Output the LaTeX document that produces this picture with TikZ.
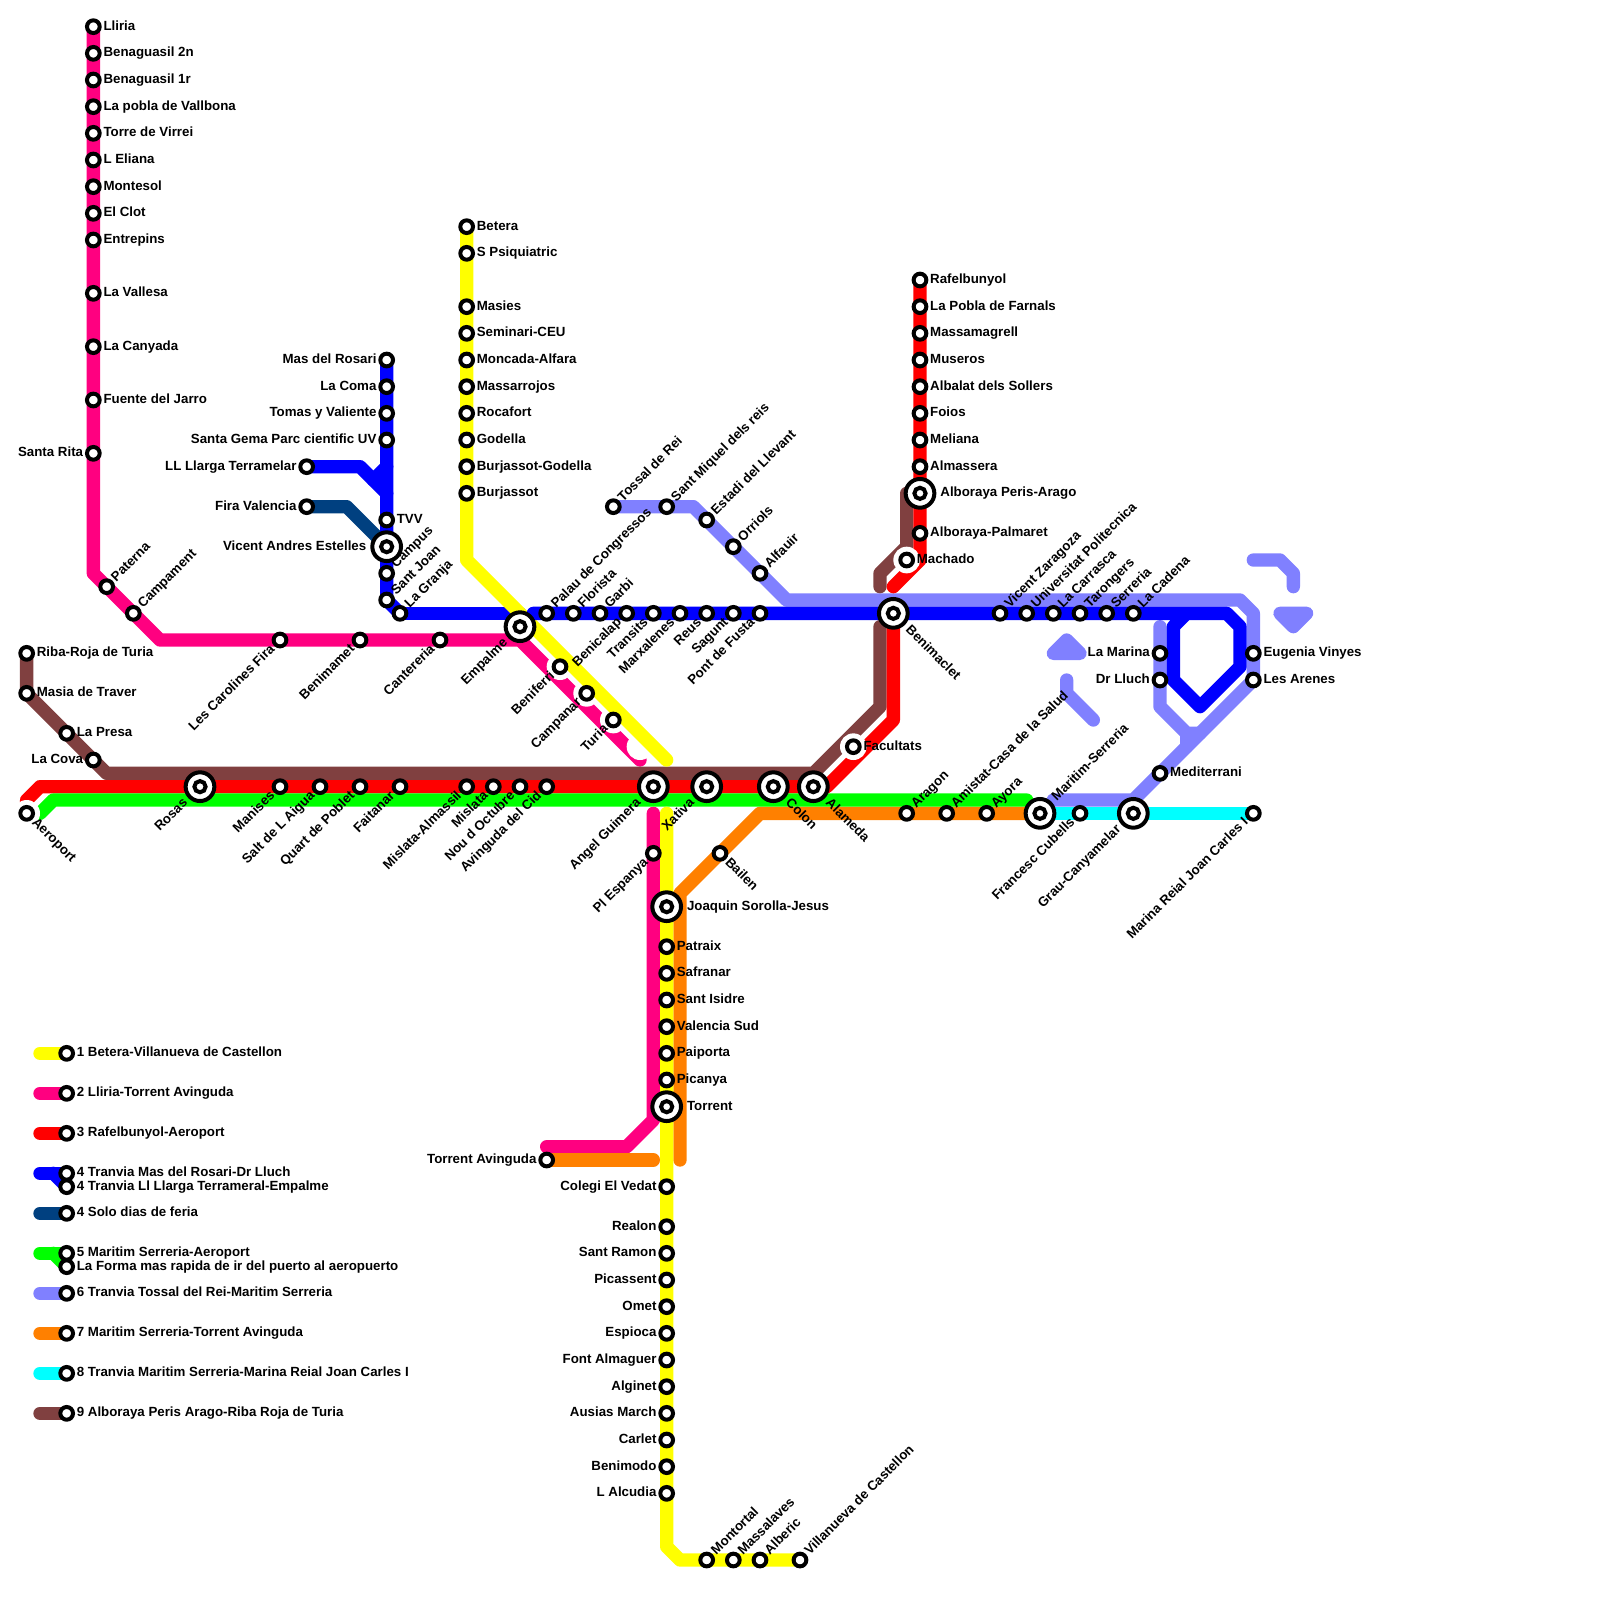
\documentclass[tikz,border=0pt]{standalone}
\usepackage{fontspec}
\setmainfont{Liberation Sans}
\definecolor{cyellow}{HTML}{FFFF00}
\definecolor{cpink}{HTML}{FF0080}
\definecolor{cred}{HTML}{FF0000}
\definecolor{cblue}{HTML}{0000FF}
\definecolor{cnavy}{HTML}{004080}
\definecolor{cgreen}{HTML}{00FF00}
\definecolor{cviolet}{HTML}{8080FF}
\definecolor{corange}{HTML}{FF8000}
\definecolor{ccyan}{HTML}{00FFFF}
\definecolor{cbrown}{HTML}{804040}
\pgfdeclarelayer{lines}
\pgfsetlayers{lines,main}
\tikzset{
  metro/.style={line width=6.667pt, line cap=round, line join=round},
  stop/.style={circle, draw=black, fill=white, line width=2pt, minimum size=6.35pt, inner sep=0pt, outer sep=0pt},
  hub/.style={circle, draw=black, fill=white, line width=2pt, minimum size=14.35pt, inner sep=0pt, outer sep=0pt,
    path picture={\draw[line width=2pt] (path picture bounding box.center) circle (2.8pt);}},
  lbl/.style={inner sep=0pt, font=\fontsize{6.65}{8}\selectfont\bfseries, text height=5pt, text depth=1.4pt},
  lblr/.style={lbl, anchor=west, xshift=4.9pt},
  lbll/.style={lbl, anchor=east, xshift=-4.9pt},
  lblup/.style={lbl, anchor=west, rotate=45, xshift=4.9pt},
  lbldn/.style={lbl, anchor=east, rotate=45, xshift=-4.9pt},
  lblse/.style={lbl, anchor=west, rotate=-45, xshift=4.9pt},
  hubr/.style={lbl, anchor=west, xshift=10pt},
  hubl/.style={lbl, anchor=east, xshift=-10pt},
  hubup/.style={lbl, anchor=west, rotate=45, xshift=10pt},
  hubdn/.style={lbl, anchor=east, rotate=45, xshift=-10pt},
  hubse/.style={lbl, anchor=west, rotate=-45, xshift=10pt},
}
\begin{document}
\begin{tikzpicture}[x=6.6667pt, y=-6.6667pt]
    \useasboundingbox (0,0) rectangle (120,120);
    % line 2
    \node[stop] (lliria) at (7,2) {}; \node[lblr] (lliria-t) at (lliria) {Lliria};
    \node[stop] (benag2) at (7,4) {}; \node[lblr] (benag2-t) at (benag2) {Benaguasil 2n};
    \node[stop] (benag1) at (7,6) {}; \node[lblr] (benag1-t) at (benag1) {Benaguasil 1r};
    \node[stop] (pobla) at (7,8) {}; \node[lblr] (pobla-t) at (pobla) {La pobla de Vallbona};
    \node[stop] (virrei) at (7,10) {}; \node[lblr] (virrei-t) at (virrei) {Torre de Virrei};
    \node[stop] (eliana) at (7,12) {}; \node[lblr] (eliana-t) at (eliana) {L Eliana};
    \node[stop] (montesol) at (7,14) {}; \node[lblr] (montesol-t) at (montesol) {Montesol};
    \node[stop] (clot) at (7,16) {}; \node[lblr] (clot-t) at (clot) {El Clot};
    \node[stop] (entrepins) at (7,18) {}; \node[lblr] (entrepins-t) at (entrepins) {Entrepins};
    \node[stop] (vallesa) at (7,22) {}; \node[lblr] (vallesa-t) at (vallesa) {La Vallesa};
    \node[stop] (canyada) at (7,26) {}; \node[lblr] (canyada-t) at (canyada) {La Canyada};
    \node[stop] (jarro) at (7,30) {}; \node[lblr] (jarro-t) at (jarro) {Fuente del Jarro};
    \node[stop] (rita) at (7,34) {}; \node[lbll] (rita-t) at (rita) {Santa Rita};
    \node[stop] (paterna) at (8,44) {}; \node[lblup] (paterna-t) at (paterna) {Paterna};
    \node[stop] (campament) at (10,46) {}; \node[lblup] (campament-t) at (campament) {Campament};
    \node[stop] (carolines) at (21,48) {}; \node[lbldn] (carolines-t) at (carolines) {Les Carolines Fira};
    \node[stop] (benimamet) at (27,48) {}; \node[lbldn] (benimamet-t) at (benimamet) {Benimamet};
    \node[stop] (cantereria) at (33,48) {}; \node[lbldn] (cantereria-t) at (cantereria) {Cantereria};
    \node[hub] (empalme) at (39,47) {}; \node[hubdn] (empalme-t) at (empalme) {Empalme};
    \node[stop] (beniferri) at (42,50) {}; \node[lbldn] (beniferri-t) at (beniferri) {Beniferri};
    \node[stop] (campanar) at (44,52) {}; \node[lbldn] (campanar-t) at (campanar) {Campanar};
    \node[stop] (turia) at (46,54) {}; \node[lbldn] (turia-t) at (turia) {Turia};
    \coordinate (gap) at (48,56);
    \node[stop] (espanya) at (49,64) {}; \node[lbldn] (espanya-t) at (espanya) {Pl Espanya};
    \node[stop] (avinguda) at (41,87) {}; \node[lbll] (avinguda-t) at (avinguda) {Torrent Avinguda};
    % line 1
    \node[stop] (betera) at (35,17) {}; \node[lblr] (betera-t) at (betera) {Betera};
    \node[stop] (psiq) at (35,19) {}; \node[lblr] (psiq-t) at (psiq) {S Psiquiatric};
    \node[stop] (masies) at (35,23) {}; \node[lblr] (masies-t) at (masies) {Masies};
    \node[stop] (seminari) at (35,25) {}; \node[lblr] (seminari-t) at (seminari) {Seminari-CEU};
    \node[stop] (moncada) at (35,27) {}; \node[lblr] (moncada-t) at (moncada) {Moncada-Alfara};
    \node[stop] (massarrojos) at (35,29) {}; \node[lblr] (massarrojos-t) at (massarrojos) {Massarrojos};
    \node[stop] (rocafort) at (35,31) {}; \node[lblr] (rocafort-t) at (rocafort) {Rocafort};
    \node[stop] (godella) at (35,33) {}; \node[lblr] (godella-t) at (godella) {Godella};
    \node[stop] (burgod) at (35,35) {}; \node[lblr] (burgod-t) at (burgod) {Burjassot-Godella};
    \node[stop] (burjassot) at (35,37) {}; \node[lblr] (burjassot-t) at (burjassot) {Burjassot};
    \node[hub] (sorolla) at (50,68) {}; \node[hubr] (sorolla-t) at (sorolla) {Joaquin Sorolla-Jesus};
    \node[stop] (patraix) at (50,71) {}; \node[lblr] (patraix-t) at (patraix) {Patraix};
    \node[stop] (safranar) at (50,73) {}; \node[lblr] (safranar-t) at (safranar) {Safranar};
    \node[stop] (isidre) at (50,75) {}; \node[lblr] (isidre-t) at (isidre) {Sant Isidre};
    \node[stop] (vsud) at (50,77) {}; \node[lblr] (vsud-t) at (vsud) {Valencia Sud};
    \node[stop] (paiporta) at (50,79) {}; \node[lblr] (paiporta-t) at (paiporta) {Paiporta};
    \node[stop] (picanya) at (50,81) {}; \node[lblr] (picanya-t) at (picanya) {Picanya};
    \node[hub] (torrent) at (50,83) {}; \node[hubr] (torrent-t) at (torrent) {Torrent};
    \node[stop] (vedat) at (50,89) {}; \node[lbll] (vedat-t) at (vedat) {Colegi El Vedat};
    \node[stop] (realon) at (50,92) {}; \node[lbll] (realon-t) at (realon) {Realon};
    \node[stop] (ramon) at (50,94) {}; \node[lbll] (ramon-t) at (ramon) {Sant Ramon};
    \node[stop] (picassent) at (50,96) {}; \node[lbll] (picassent-t) at (picassent) {Picassent};
    \node[stop] (omet) at (50,98) {}; \node[lbll] (omet-t) at (omet) {Omet};
    \node[stop] (espioca) at (50,100) {}; \node[lbll] (espioca-t) at (espioca) {Espioca};
    \node[stop] (almaguer) at (50,102) {}; \node[lbll] (almaguer-t) at (almaguer) {Font Almaguer};
    \node[stop] (alginet) at (50,104) {}; \node[lbll] (alginet-t) at (alginet) {Alginet};
    \node[stop] (ausias) at (50,106) {}; \node[lbll] (ausias-t) at (ausias) {Ausias March};
    \node[stop] (carlet) at (50,108) {}; \node[lbll] (carlet-t) at (carlet) {Carlet};
    \node[stop] (benimodo) at (50,110) {}; \node[lbll] (benimodo-t) at (benimodo) {Benimodo};
    \node[stop] (alcudia) at (50,112) {}; \node[lbll] (alcudia-t) at (alcudia) {L Alcudia};
    \node[stop] (montortal) at (53,117) {}; \node[lblup] (montortal-t) at (montortal) {Montortal};
    \node[stop] (massalaves) at (55,117) {}; \node[lblup] (massalaves-t) at (massalaves) {Massalaves};
    \node[stop] (alberic) at (57,117) {}; \node[lblup] (alberic-t) at (alberic) {Alberic};
    \node[stop] (villanueva) at (60,117) {}; \node[lblup] (villanueva-t) at (villanueva) {Villanueva de Castellon};
    % line 3
    \node[stop] (rafel) at (69,21) {}; \node[lblr] (rafel-t) at (rafel) {Rafelbunyol};
    \node[stop] (farnals) at (69,23) {}; \node[lblr] (farnals-t) at (farnals) {La Pobla de Farnals};
    \node[stop] (massamagrell) at (69,25) {}; \node[lblr] (massamagrell-t) at (massamagrell) {Massamagrell};
    \node[stop] (museros) at (69,27) {}; \node[lblr] (museros-t) at (museros) {Museros};
    \node[stop] (albalat) at (69,29) {}; \node[lblr] (albalat-t) at (albalat) {Albalat dels Sollers};
    \node[stop] (foios) at (69,31) {}; \node[lblr] (foios-t) at (foios) {Foios};
    \node[stop] (meliana) at (69,33) {}; \node[lblr] (meliana-t) at (meliana) {Meliana};
    \node[stop] (almassera) at (69,35) {}; \node[lblr] (almassera-t) at (almassera) {Almassera};
    \node[hub] (peris) at (69,37) {}; \node[hubr] (peris-t) at (peris) {Alboraya Peris-Arago};
    \node[stop] (palmaret) at (69,40) {}; \node[lblr] (palmaret-t) at (palmaret) {Alboraya-Palmaret};
    \node[stop] (machado) at (68,42) {}; \node[lblr] (machado-t) at (machado) {Machado};
    \node[hub] (benimaclet) at (67,46) {}; \node[hubse] (benimaclet-t) at (benimaclet) {Benimaclet};
    \node[stop] (facultats) at (64,56) {}; \node[lblr] (facultats-t) at (facultats) {Facultats};
    \node[hub] (alameda) at (61,59) {}; \node[hubse] (alameda-t) at (alameda) {Alameda};
    \node[hub] (colon) at (58,59) {}; \node[hubse] (colon-t) at (colon) {Colon};
    \node[hub] (xativa) at (53,59) {}; \node[hubdn] (xativa-t) at (xativa) {Xativa};
    \node[hub] (guimera) at (49,59) {}; \node[hubdn] (guimera-t) at (guimera) {Angel Guimera};
    \node[stop] (cid) at (41,59) {}; \node[lbldn] (cid-t) at (cid) {Avinguda del Cid};
    \node[stop] (octubre) at (39,59) {}; \node[lbldn] (octubre-t) at (octubre) {Nou d Octubre};
    \node[stop] (mislata) at (37,59) {}; \node[lbldn] (mislata-t) at (mislata) {Mislata};
    \node[stop] (almassil) at (35,59) {}; \node[lbldn] (almassil-t) at (almassil) {Mislata-Almassil};
    \node[stop] (faitanar) at (30,59) {}; \node[lbldn] (faitanar-t) at (faitanar) {Faitanar};
    \node[stop] (quart) at (27,59) {}; \node[lbldn] (quart-t) at (quart) {Quart de Poblet};
    \node[stop] (salt) at (24,59) {}; \node[lbldn] (salt-t) at (salt) {Salt de L Aigua};
    \node[stop] (manises) at (21,59) {}; \node[lbldn] (manises-t) at (manises) {Manises};
    \node[hub] (rosas) at (15,59) {}; \node[hubdn] (rosas-t) at (rosas) {Rosas};
    \node[stop] (aeroport) at (2,61) {}; \node[lblse] (aeroport-t) at (aeroport) {Aeroport};
    % line 4
    \node[stop] (rosari) at (29,27) {}; \node[lbll] (rosari-t) at (rosari) {Mas del Rosari};
    \node[stop] (coma) at (29,29) {}; \node[lbll] (coma-t) at (coma) {La Coma};
    \node[stop] (tomas) at (29,31) {}; \node[lbll] (tomas-t) at (tomas) {Tomas y Valiente};
    \node[stop] (gema) at (29,33) {}; \node[lbll] (gema-t) at (gema) {Santa Gema Parc cientific UV};
    \node[stop] (llarga) at (23,35) {}; \node[lbll] (llarga-t) at (llarga) {LL Llarga Terramelar};
    \node[stop] (fira) at (23,38) {}; \node[lbll] (fira-t) at (fira) {Fira Valencia};
    \node[stop] (tvv) at (29,39) {}; \node[lblr] (tvv-t) at (tvv) {TVV};
    \node[hub] (estelles) at (29,41) {}; \node[hubl] (estelles-t) at (estelles) {Vicent Andres Estelles};
    \node[stop] (campus) at (29,43) {}; \node[lblup] (campus-t) at (campus) {Campus};
    \node[stop] (joan) at (29,45) {}; \node[lblup] (joan-t) at (joan) {Sant Joan};
    \node[stop] (granja) at (30,46) {}; \node[lblup] (granja-t) at (granja) {La Granja};
    \node[stop] (palau) at (41,46) {}; \node[lblup] (palau-t) at (palau) {Palau de Congressos};
    \node[stop] (florista) at (43,46) {}; \node[lblup] (florista-t) at (florista) {Florista};
    \node[stop] (garbi) at (45,46) {}; \node[lblup] (garbi-t) at (garbi) {Garbi};
    \node[stop] (benicalap) at (47,46) {}; \node[lbldn] (benicalap-t) at (benicalap) {Benicalap};
    \node[stop] (transits) at (49,46) {}; \node[lbldn] (transits-t) at (transits) {Transits};
    \node[stop] (marxalenes) at (51,46) {}; \node[lbldn] (marxalenes-t) at (marxalenes) {Marxalenes};
    \node[stop] (reus) at (53,46) {}; \node[lbldn] (reus-t) at (reus) {Reus};
    \node[stop] (sagunt) at (55,46) {}; \node[lbldn] (sagunt-t) at (sagunt) {Sagunt};
    \node[stop] (fusta) at (57,46) {}; \node[lbldn] (fusta-t) at (fusta) {Pont de Fusta};
    \node[stop] (zaragoza) at (75,46) {}; \node[lblup] (zaragoza-t) at (zaragoza) {Vicent Zaragoza};
    \node[stop] (poli) at (77,46) {}; \node[lblup] (poli-t) at (poli) {Universitat Politecnica};
    \node[stop] (carrasca) at (79,46) {}; \node[lblup] (carrasca-t) at (carrasca) {La Carrasca};
    \node[stop] (tarongers) at (81,46) {}; \node[lblup] (tarongers-t) at (tarongers) {Tarongers};
    \node[stop] (serreria) at (83,46) {}; \node[lblup] (serreria-t) at (serreria) {Serreria};
    \node[stop] (cadena) at (85,46) {}; \node[lblup] (cadena-t) at (cadena) {La Cadena};
    \node[stop] (marina) at (87,49) {}; \node[lbll] (marina-t) at (marina) {La Marina};
    \node[stop] (lluch) at (87,51) {}; \node[lbll] (lluch-t) at (lluch) {Dr Lluch};
    % line 6
    \node[stop] (tossal) at (46,38) {}; \node[lblup] (tossal-t) at (tossal) {Tossal de Rei};
    \node[stop] (miquel) at (50,38) {}; \node[lblup] (miquel-t) at (miquel) {Sant Miquel dels reis};
    \node[stop] (estadi) at (53,39) {}; \node[lblup] (estadi-t) at (estadi) {Estadi del Llevant};
    \node[stop] (orriols) at (55,41) {}; \node[lblup] (orriols-t) at (orriols) {Orriols};
    \node[stop] (alfauir) at (57,43) {}; \node[lblup] (alfauir-t) at (alfauir) {Alfauir};
    \node[stop] (eugenia) at (94,49) {}; \node[lblr] (eugenia-t) at (eugenia) {Eugenia Vinyes};
    \node[stop] (arenes) at (94,51) {}; \node[lblr] (arenes-t) at (arenes) {Les Arenes};
    \node[stop] (mediterrani) at (87,58) {}; \node[lblr] (mediterrani-t) at (mediterrani) {Mediterrani};
    % lines 5, 7 and 8
    \node[stop] (bailen) at (54,64) {}; \node[lblse] (bailen-t) at (bailen) {Bailen};
    \node[stop] (aragon) at (68,61) {}; \node[lblup] (aragon-t) at (aragon) {Aragon};
    \node[stop] (amistat) at (71,61) {}; \node[lblup] (amistat-t) at (amistat) {Amistat-Casa de la Salud};
    \node[stop] (ayora) at (74,61) {}; \node[lblup] (ayora-t) at (ayora) {Ayora};
    \node[hub] (maritim) at (78,61) {}; \node[hubup] (maritim-t) at (maritim) {Maritim-Serreria};
    \node[stop] (cubells) at (81,61) {}; \node[lbldn] (cubells-t) at (cubells) {Francesc Cubells};
    \node[hub] (grau) at (85,61) {}; \node[hubdn] (grau-t) at (grau) {Grau-Canyamelar};
    \node[stop] (reial) at (94,61) {}; \node[lbldn] (reial-t) at (reial) {Marina Reial Joan Carles I};
    % line 9
    \node[stop] (riba) at (2,49) {}; \node[lblr] (riba-t) at (riba) {Riba-Roja de Turia};
    \node[stop] (traver) at (2,52) {}; \node[lblr] (traver-t) at (traver) {Masia de Traver};
    \node[stop] (presa) at (5,55) {}; \node[lblr] (presa-t) at (presa) {La Presa};
    \node[stop] (cova) at (7,57) {}; \node[lbll] (cova-t) at (cova) {La Cova};
    % key
    \node[stop] (key1) at (5,79) {}; \node[lblr] (key1-t) at (key1) {1 Betera-Villanueva de Castellon};
    \node[stop] (key2) at (5,82) {}; \node[lblr] (key2-t) at (key2) {2 Lliria-Torrent Avinguda};
    \node[stop] (key3) at (5,85) {}; \node[lblr] (key3-t) at (key3) {3 Rafelbunyol-Aeroport};
    \node[stop] (key4) at (5,88) {}; \node[lblr] (key4-t) at (key4) {4 Tranvia Mas del Rosari-Dr Lluch};
    \node[stop] (key4b) at (5,89) {}; \node[lblr] (key4b-t) at (key4b) {4 Tranvia Ll Llarga Terrameral-Empalme};
    \node[stop] (key4c) at (5,91) {}; \node[lblr] (key4c-t) at (key4c) {4 Solo dias de feria};
    \node[stop] (key5) at (5,94) {}; \node[lblr] (key5-t) at (key5) {5 Maritim Serreria-Aeroport};
    \node[stop] (key5b) at (5,95) {}; \node[lblr] (key5b-t) at (key5b) {La Forma mas rapida de ir del puerto al aeropuerto};
    \node[stop] (key6) at (5,97) {}; \node[lblr] (key6-t) at (key6) {6 Tranvia Tossal del Rei-Maritim Serreria};
    \node[stop] (key7) at (5,100) {}; \node[lblr] (key7-t) at (key7) {7 Maritim Serreria-Torrent Avinguda};
    \node[stop] (key8) at (5,103) {}; \node[lblr] (key8-t) at (key8) {8 Tranvia Maritim Serreria-Marina Reial Joan Carles I};
    \node[stop] (key9) at (5,106) {}; \node[lblr] (key9-t) at (key9) {9 Alboraya Peris Arago-Riba Roja de Turia};
    \begin{pgfonlayer}{lines}
    \draw[metro, cblue] (granja.center) -- (39,46);
    \draw[metro, cpink] (lliria.center) -- (7,43) -- (12,48) -- (39,48) -- (48,57);
    \draw[metro, cpink] (49,61) -- (49,84) -- (47,86) -- (41,86);
    \draw[metro, cviolet] (tossal.center) -- (52,38) -- (59,45) -- (93,45) -- (94,46) -- (94,51) -- (85,60) -- (79,60);
    \draw[metro, cviolet] (87,47) -- (87,53) -- (89,55) -- (90,55);
    \draw[metro, cviolet] (89,55) -- (89,56);
    \draw[metro, cviolet] (94,42) -- (96,42) -- (97,43) -- (97,44);
    \draw[metro, cviolet] (96,46) -- (98,46) -- (97,47) -- cycle;
    \draw[metro, cviolet] (79,49) -- (81,49) -- (80,48) -- cycle;
    \draw[metro, cviolet] (80,51) -- (80,52) -- (82,54);
    \draw[metro, ccyan] (maritim.center) -- (reial.center);
    \draw[metro, corange] (avinguda.center) -- (49,87);
    \draw[metro, corange] (51,87) -- (51,67) -- (57,61) -- (maritim.center);
    \draw[metro, cnavy] (fira.center) -- (26,38) -- (estelles.center);
    \draw[metro, cbrown] (riba.center) -- (traver.center) -- (8,58) -- (61,58) -- (66,53) -- (66,47);
    \draw[metro, cbrown] (66,44) -- (66,43) -- (68,41) -- (68,37);
    \draw[metro, cred] (rafel.center) -- (69,42) -- (67,44);
    \draw[metro, cred] (67,47) -- (67,54) -- (62,59) -- (3,59) -- (2,60) -- (aeroport.center);
    \draw[metro, cgreen] (3,61) -- (4,60) -- (77,60);
    % white rings round some stops
    \fill[white] (beniferri) circle (1);
    \fill[white] (campanar) circle (1);
    \fill[white] (turia) circle (1);
    \fill[white] (gap) circle (1);
    \fill[white] (machado) circle (1);
    \fill[white] (facultats) circle (1);
    \fill[white] (aeroport) circle (1);
    \draw[metro, cyellow] (betera.center) -- (35,42) -- (50,57);
    \draw[metro, cyellow] (50,61) -- (50,116) -- (51,117) -- (villanueva.center);
    \draw[metro, cblue] (rosari.center) -- (joan.center) -- (granja.center);
    \draw[metro, cblue] (llarga.center) -- (27,35) -- (29,37);
    \draw[metro, cblue] (29,35) -- (28,36);
    \draw[metro, cblue] (40,46) -- (92,46) -- (93,47) -- (93,50) -- (90,53) -- (88,51) -- (88,47) -- (89,46);
    % key lines
    \draw[metro, cyellow] (3,79) -- (key1.center);
    \draw[metro, cpink] (3,82) -- (key2.center);
    \draw[metro, cred] (3,85) -- (key3.center);
    \draw[metro, cblue] (3,88) -- (key4.center);
    \draw[metro, cblue] (4,88) -- (key4b.center);
    \draw[metro, cnavy] (3,91) -- (key4c.center);
    \draw[metro, cgreen] (3,94) -- (key5.center);
    \draw[metro, cgreen] (4,94) -- (key5b.center);
    \draw[metro, cviolet] (3,97) -- (key6.center);
    \draw[metro, corange] (3,100) -- (key7.center);
    \draw[metro, ccyan] (3,103) -- (key8.center);
    \draw[metro, cbrown] (3,106) -- (key9.center);
    \end{pgfonlayer}
\end{tikzpicture}
\end{document}
